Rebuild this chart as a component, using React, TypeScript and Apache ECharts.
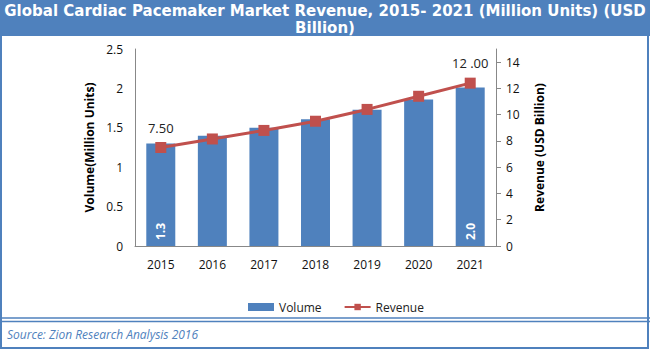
import React, { useEffect, useRef } from "react";
import * as echarts from "echarts";

const years = ["2015", "2016", "2017", "2018", "2019", "2020", "2021"];
const volume = [1.3, 1.4, 1.5, 1.61, 1.73, 1.86, 2.01];
const revenue = [7.5, 8.15, 8.8, 9.5, 10.4, 11.4, 12.4];
const volumeLabels = ["1.3", "", "", "", "", "", "2.0"];
const revenueLabels = ["7.50", "", "", "", "", "", "12 .00"];
const titleLines = [
  "Global Cardiac Pacemaker Market Revenue, 2015- 2021 (Million Units) (USD",
  "Billion)",
];

const BLUE = "#4F81BD";
const RED = "#C0504D";
const AXIS = "#888888";
const FONT = "'Open Sans', 'Noto Sans', sans-serif";

export default function App() {
  const ref = useRef<HTMLDivElement>(null);
  useEffect(() => {
    document.body.style.margin = "0";
    const chart = echarts.init(ref.current!, null, { renderer: "svg" });
    chart.setOption({
      animation: false,
      backgroundColor: "#ffffff",
      graphic: [
        { type: "rect", z: -10, shape: { x: 0, y: 0, width: 650, height: 36 }, style: { fill: BLUE } },
        { type: "rect", z: -10, shape: { x: 1, y: 1, width: 647, height: 347 }, style: { fill: "none", stroke: BLUE, lineWidth: 2 } },
        ...titleLines.map((t, i) => ({
          type: "text",
          x: 325,
          y: 11 + i * 17,
          z: 10,
          style: {
            text: t,
            fill: "#ffffff",
            font: "bold 15px 'DejaVu Sans', sans-serif",
            textAlign: "center",
            textVerticalAlign: "middle",
          },
        })),
        { type: "line", shape: { x1: 0, y1: 318, x2: 650, y2: 318 }, style: { stroke: BLUE, lineWidth: 1.5 } },
        { type: "line", shape: { x1: 0, y1: 321.5, x2: 650, y2: 321.5 }, style: { stroke: BLUE, lineWidth: 1.5 } },
        {
          type: "text",
          x: 7,
          y: 334,
          style: {
            text: "Source: Zion Research Analysis 2016",
            fill: BLUE,
            font: "italic 12px 'Open Sans', sans-serif",
            textVerticalAlign: "middle",
          },
        },
      ],
      legend: {
        top: 296,
        left: 243,
        itemWidth: 26,
        itemHeight: 8,
        itemGap: 22,
        textStyle: { fontFamily: FONT, fontSize: 12, color: "#222" },
        data: [
          { name: "Volume", icon: "rect" },
          { name: "Revenue" },
        ],
      },
      grid: { left: 135, right: 154, top: 49, bottom: 104 },
      xAxis: {
        type: "category",
        data: years,
        axisLine: { lineStyle: { color: AXIS } },
        axisTick: { show: false },
        axisLabel: { color: "#111", fontFamily: FONT, fontSize: 12, margin: 12 },
      },
      yAxis: [
        {
          type: "value",
          min: 0,
          max: 2.5,
          interval: 0.5,
          name: "Volume(Million Units)",
          nameLocation: "middle",
          nameRotate: 90,
          nameGap: 40,
          nameTextStyle: { fontFamily: FONT, fontWeight: "bold", fontSize: 12, color: "#000" },
          axisLine: { show: true, lineStyle: { color: AXIS } },
          axisTick: { show: false },
          splitLine: { show: false },
          axisLabel: { color: "#111", fontFamily: FONT, fontSize: 12, margin: 12 },
        },
        {
          type: "value",
          min: 0,
          max: 15,
          interval: 2,
          name: "Revenue (USD Billion)",
          nameLocation: "middle",
          nameRotate: 90,
          nameGap: 37,
          nameTextStyle: { fontFamily: FONT, fontWeight: "bold", fontSize: 12, color: "#000" },
          axisLine: { show: true, lineStyle: { color: AXIS } },
          axisTick: { show: true, length: 5, lineStyle: { color: AXIS } },
          splitLine: { show: false },
          axisLabel: { color: "#111", fontFamily: FONT, fontSize: 12, margin: 10, showMaxLabel: false },
        },
      ],
      series: [
        {
          name: "Volume",
          type: "bar",
          barWidth: 29,
          itemStyle: { color: BLUE },
          data: volume.map((v, i) => ({
            value: v,
            label: {
              show: volumeLabels[i] !== "",
              position: "insideBottom",
              rotate: 90,
              align: "left",
              verticalAlign: "middle",
              distance: 6,
              formatter: () => volumeLabels[i],
              color: "#ffffff",
              fontWeight: "bold",
              fontFamily: FONT,
              fontSize: 12,
            },
          })),
        },
        {
          name: "Revenue",
          type: "line",
          yAxisIndex: 1,
          symbol: "rect",
          symbolSize: 11,
          lineStyle: { color: RED, width: 3 },
          itemStyle: { color: RED },
          data: revenue.map((v, i) => ({
            value: v,
            label: {
              show: revenueLabels[i] !== "",
              position: "top",
              distance: 8,
              formatter: () => revenueLabels[i],
              color: "#222",
              fontFamily: FONT,
              fontSize: 13,
            },
          })),
        },
      ],
    });
    return () => chart.dispose();
  }, []);
  return <div ref={ref} style={{ width: 650, height: 350 }} />;
}
